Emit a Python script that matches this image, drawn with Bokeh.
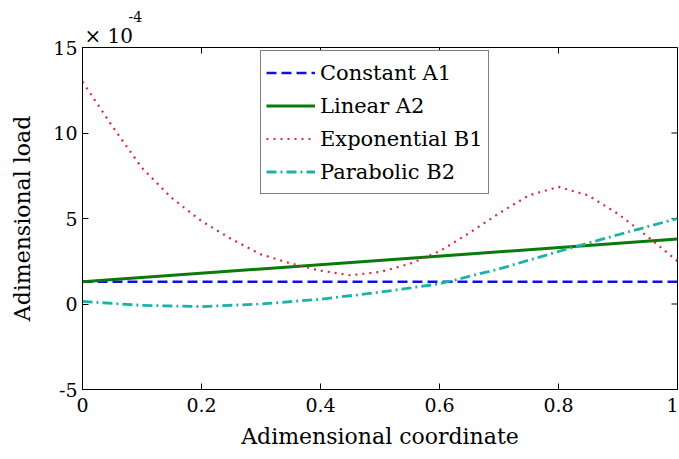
import math
from bokeh.plotting import figure
from bokeh.models import Legend, LegendItem, FixedTicker, Range1d, Title
from bokeh.embed import file_html
from bokeh.resources import INLINE

# ---- data (values in units of 1e-4) ----
const_x = [0.0, 1.0]
const_y = [1.3, 1.3]

lin_x = [0.0, 1.0]
lin_y = [1.3, 3.8]

exp_x = [0.0, 0.05, 0.1, 0.15, 0.2, 0.25, 0.3, 0.35, 0.4, 0.45, 0.5,
         0.55, 0.6, 0.65, 0.7, 0.75, 0.8, 0.85, 0.9, 0.95, 1.0]
exp_y = [13.0, 10.4, 7.95, 6.2, 4.85, 3.8, 2.9, 2.37, 1.95, 1.68, 1.87,
         2.35, 3.08, 4.15, 5.3, 6.35, 6.85, 6.35, 5.27, 3.94, 2.5]

par_x = [0.0, 0.1, 0.2, 0.3, 0.4, 0.5, 0.6, 0.7, 0.8, 0.9, 1.0]
par_y = [0.15, -0.08, -0.15, 0.0, 0.28, 0.69, 1.18, 2.05, 3.07, 4.05, 5.0]

series_names = ["Constant A1", "Linear A2", "Exponential B1", "Parabolic B2"]
x_ticks = [0, 0.2, 0.4, 0.6, 0.8, 1.0]
x_tick_labels = ["0", "0.2", "0.4", "0.6", "0.8", "1"]
y_ticks = [-5, 0, 5, 10, 15]
y_tick_labels = ["-5", "0", "5", "10", "15"]

FONT = "DejaVu Serif"

p = figure(width=678, height=458, output_backend="svg", toolbar_location=None,
           title=None, x_range=Range1d(0, 1), y_range=Range1d(-5, 15),
           min_border_left=82, min_border_right=1, min_border_top=47, min_border_bottom=69)
p.background_fill_color = "white"
p.border_fill_color = "white"
p.outline_line_color = "black"
p.outline_line_width = 1
p.grid.visible = False

p.xaxis.ticker = FixedTicker(ticks=x_ticks)
p.yaxis.ticker = FixedTicker(ticks=y_ticks)
p.xaxis.major_label_overrides = dict(zip(x_ticks, x_tick_labels))
p.yaxis.major_label_overrides = dict(zip(y_ticks, y_tick_labels))
for ax in (p.xaxis[0], p.yaxis[0]):
    ax.major_tick_in = 6
    ax.major_tick_out = 0
    ax.minor_tick_line_color = None
    ax.axis_line_color = "black"
    ax.major_label_text_font = FONT
    ax.major_label_text_font_size = "19px"
    ax.major_label_text_color = "black"
    ax.axis_label_text_font = FONT
    ax.axis_label_text_font_size = "22px"
    ax.axis_label_text_font_style = "normal"
    ax.axis_label_text_color = "black"
p.xaxis.axis_label = "Adimensional coordinate"
p.yaxis.axis_label = "Adimensional load"
p.xaxis.major_label_standoff = 8
p.xaxis.axis_label_standoff = 9
p.yaxis.major_label_standoff = 5
p.yaxis.axis_label_standoff = 15

# inward tick marks on the top and right edges of the box
p.scatter(x=x_ticks, y=[max(y_ticks)] * len(x_ticks), marker="dash", size=12,
          angle=math.pi / 2, line_color="black", line_width=1)
p.scatter(x=[max(x_ticks)] * len(y_ticks), y=y_ticks, marker="dash", size=12,
          line_color="black", line_width=1)

r1 = p.line(const_x, const_y, line_color="#1010e0", line_width=2.4, line_dash="10 5")
r2 = p.line(lin_x, lin_y, line_color="#0a7a0a", line_width=3.0)
r3 = p.line(exp_x, exp_y, line_color="#e0283a", line_width=2.2, line_dash="2 5")
r4 = p.line(par_x, par_y, line_color="#1cb2aa", line_width=2.8, line_dash="10 4 2 4")

legend = Legend(items=[LegendItem(label=n, renderers=[r]) for n, r in
                       zip(series_names, [r1, r2, r3, r4])],
                location=(178, 195))
legend.label_text_font = FONT
legend.label_text_font_size = "21px"
legend.label_text_color = "black"
legend.glyph_width = 49
legend.glyph_height = 33
legend.label_height = 33
legend.label_standoff = 5
legend.spacing = 0
legend.padding = 5
legend.margin = 0
legend.border_line_color = "black"
legend.border_line_width = 1
legend.background_fill_alpha = 1
p.add_layout(legend, "center")

p.add_layout(Title(text="× 10", align="left", offset=2, text_font=FONT,
                   text_font_size="20px", text_font_style="normal",
                   text_color="black", standoff=0), "above")
p.add_layout(Title(text="-4", align="left", offset=46, text_font=FONT,
                   text_font_size="14px", text_font_style="normal",
                   text_color="black", standoff=0), "above")

open("out.html", "w").write(file_html(p, INLINE))
